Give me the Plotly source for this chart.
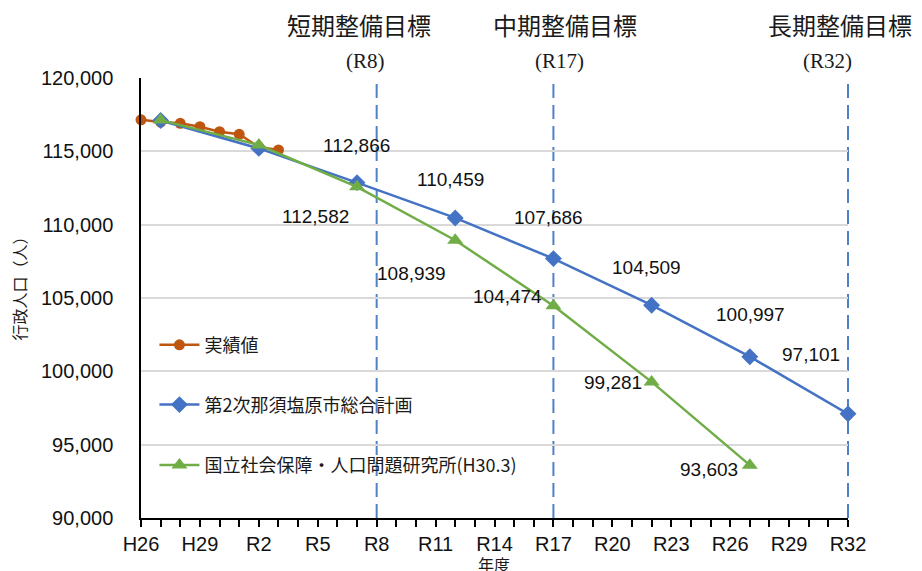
import plotly.graph_objects as go

# ---------------- data ----------------
categories = ["H26", "H27", "H28", "H29", "H30"] + [f"R{i}" for i in range(1, 33)]
tick_labels = [c if i % 3 == 0 else "" for i, c in enumerate(categories)]

actual_x = ["H26", "H27", "H28", "H29", "H30", "R1", "R2", "R3"]
actual_y = [117150, 117000, 116910, 116680, 116340, 116160, 115300, 115090]

plan_x = ["H27", "R2", "R7", "R12", "R17", "R22", "R27", "R32"]
plan_y = [117100, 115200, 112866, 110459, 107686, 104509, 100997, 97101]

ipss_x = ["H27", "R2", "R7", "R12", "R17", "R22", "R27"]
ipss_y = [117130, 115430, 112582, 108939, 104474, 99281, 93603]

names = ["実績値", "第2次那須塩原市総合計画", "国立社会保障・人口問題研究所(H30.3)"]

target_years = ["R8", "R17", "R32"]
target_titles = ["短期整備目標", "中期整備目標", "長期整備目標"]

# ---------------- style ----------------
C_ACT = "#BF560F"
C_PLAN = "#4472C4"
C_IPSS = "#70AD47"
C_DASH = "#4F81C7"
NUM_FONT = "Liberation Sans, Arial, sans-serif"
JP_FONT = "Noto Sans CJK JP, sans-serif"

# label offsets (px) for labelled points (from R7 on)
plan_shift = [(-1, 37), (-5, 38), (-5, 41), (-5, 38), (1, 42), (-37, 59)]
ipss_shift = [(-42, -30), (-44, -33), (-46, 9), (-39, -1), (-41, -4)]

fig = go.Figure()

fig.add_trace(go.Scatter(
    x=actual_x, y=actual_y, name=names[0], mode="lines+markers",
    line=dict(color=C_ACT, width=2.5),
    marker=dict(symbol="circle", size=11, color=C_ACT),
    cliponaxis=False, legend="legend"))
fig.add_trace(go.Scatter(
    x=plan_x, y=plan_y, name=names[1], mode="lines+markers",
    line=dict(color=C_PLAN, width=2.5),
    marker=dict(symbol="diamond", size=13, color=C_PLAN),
    cliponaxis=False, legend="legend2"))
fig.add_trace(go.Scatter(
    x=ipss_x, y=ipss_y, name=names[2], mode="lines+markers",
    line=dict(color=C_IPSS, width=2.5),
    marker=dict(symbol="triangle-up", size=14, color=C_IPSS),
    cliponaxis=False, legend="legend3"))

# data labels
for (xv, yv), (dx, dy) in zip(list(zip(plan_x, plan_y))[2:], plan_shift):
    fig.add_annotation(x=xv, y=yv, text=f"{yv:,}", showarrow=False,
                       xshift=dx, yshift=dy, xanchor="center", yanchor="middle",
                       font=dict(family=NUM_FONT, size=19, color="#111111"))
for (xv, yv), (dx, dy) in zip(list(zip(ipss_x, ipss_y))[2:], ipss_shift):
    fig.add_annotation(x=xv, y=yv, text=f"{yv:,}", showarrow=False,
                       xshift=dx, yshift=dy, xanchor="center", yanchor="middle",
                       font=dict(family=NUM_FONT, size=19, color="#111111"))

# white box behind legend (hides gridlines)
fig.add_shape(type="rect", xref="paper", yref="paper",
              x0=0.010, x1=0.581, y0=0.05, y1=0.45,
              fillcolor="white", line=dict(width=0), layer="between")

# target dashed lines
for t in target_years:
    xp = categories.index(t) / (len(categories) - 1)
    fig.add_shape(type="line", xref="paper", yref="paper", x0=xp, x1=xp, y0=0, y1=1,
                  line=dict(color=C_DASH, width=2, dash="14px,7px"), layer="between")

# target headers
head_pos = [(0.309, 0.318), (0.5997, 0.5926), (0.9887, 0.9717)]
for t, title, (hx, px) in zip(target_years, target_titles, head_pos):
    fig.add_annotation(xref="paper", yref="paper", x=hx, y=1.1205, text=title,
                       showarrow=False, xanchor="center", yanchor="middle",
                       font=dict(family=JP_FONT, size=24, color="#1a1a1a"))
    fig.add_annotation(xref="paper", yref="paper", x=px, y=1.0386, text=f"({t})",
                       showarrow=False, xanchor="center", yanchor="middle",
                       font=dict(family="Liberation Serif, serif", size=21, color="#1a1a1a"))

# axis titles
fig.add_annotation(xref="paper", yref="paper", x=-0.173, y=0.53, text="行政人口（人）",
                   textangle=-90, showarrow=False, xanchor="center", yanchor="middle",
                   font=dict(family=JP_FONT, size=16, color="#1a1a1a"))
fig.add_annotation(xref="paper", yref="paper", x=0.499, y=-0.072, text="年度",
                   showarrow=False, xanchor="center", yanchor="top",
                   font=dict(family=JP_FONT, size=16, color="#1a1a1a"))

leg_common = dict(xanchor="left", yanchor="middle", bgcolor="rgba(0,0,0,0)",
                  font=dict(family=JP_FONT, size=18, color="#1a1a1a"),
                  itemwidth=40)
fig.update_layout(
    width=914, height=563,
    margin=dict(l=133, r=74, t=70, b=53),
    paper_bgcolor="white", plot_bgcolor="white",
    showlegend=True,
    legend=dict(x=0.019, y=0.393, **leg_common),
    legend2=dict(x=0.019, y=0.257, **leg_common),
    legend3=dict(x=0.019, y=0.12, **leg_common),
    xaxis=dict(type="category", categoryorder="array", categoryarray=categories,
               range=[0, len(categories) - 1],
               tickmode="array", tickvals=categories, ticktext=tick_labels,
               ticks="outside", ticklen=7, tickwidth=1.5, tickcolor="black",
               showline=True, linecolor="black", linewidth=1.5,
               showgrid=False, zeroline=False,
               tickfont=dict(family=NUM_FONT, size=20, color="#111111")),
    yaxis=dict(range=[90000, 120000], dtick=5000, tickformat=",",
               showline=True, linecolor="black", linewidth=1.5,
               showgrid=True, gridcolor="#D9D9D9", gridwidth=1.5, zeroline=False,
               ticks="", ticklabelstandoff=22,
               tickfont=dict(family=NUM_FONT, size=20, color="#111111")),
)

fig.write_html("out.html")
